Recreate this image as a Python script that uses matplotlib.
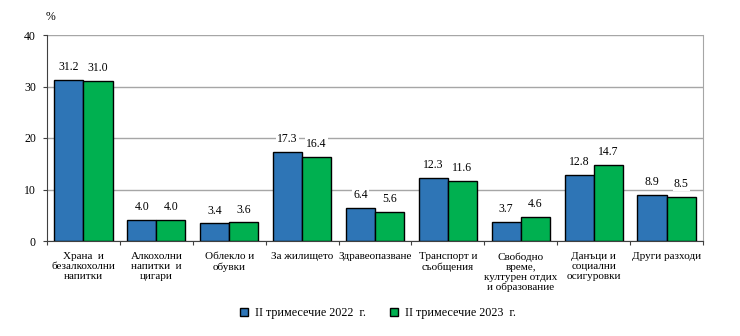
import matplotlib
matplotlib.use("Agg")
import matplotlib.pyplot as plt
import numpy as np

categories = ["Храна  и\nбезалкохолни\nнапитки", "Алкохолни\nнапитки  и\nцигари",
              "Облекло и\nобувки", "За жилището", "Здравеопазване",
              "Транспорт и\nсъобщения", "Свободно\nвреме,\nкултурен отдих\nи образование",
              "Данъци и\nсоциални\nосигуровки", "Други разходи"]
q2_2022 = [31.2, 4.0, 3.4, 17.3, 6.4, 12.3, 3.7, 12.8, 8.9]
q2_2023 = [31.0, 4.0, 3.6, 16.4, 5.6, 11.6, 4.6, 14.7, 8.5]
series_names = ["II тримесечие 2022  г.", "II тримесечие 2023  г."]
yticks = [0, 10, 20, 30, 40]

plt.rcParams['font.family'] = ['Liberation Serif', 'DejaVu Serif']
fs = 8

fig = plt.figure(figsize=(7.4, 3.36), dpi=100)
ax = fig.add_axes([47/740, 1-241/336, (703-47)/740, (241-35)/336])

x = np.arange(len(categories))
w = 0.4
b1 = ax.bar(x - w/2, q2_2022, w, color="#2E75B6", edgecolor="black", linewidth=1.0, zorder=3,
            label=series_names[0])
b2 = ax.bar(x + w/2, q2_2023, w, color="#00B050", edgecolor="black", linewidth=1.0, zorder=3,
            label=series_names[1])

for bars, vals in ((b1, q2_2022), (b2, q2_2023)):
    for r, v in zip(bars, vals):
        ax.annotate(f"{v:.1f}", (r.get_x() + r.get_width()/2, v), xytext=(0, 5),
                    textcoords="offset points", ha="center", va="bottom", fontsize=8.5,
                    zorder=4, bbox=dict(boxstyle="square,pad=0.1", fc="white", ec="none"))

ax.set_xlim(-0.5, len(categories) - 0.5)
ax.set_ylim(0, 40)
ax.set_yticks(yticks)
ax.set_yticklabels([str(t) for t in yticks], fontsize=8.5)
ax.yaxis.grid(True, color="#A6A6A6", linewidth=1.0, zorder=0)
ax.set_axisbelow(True)

ax.set_xticks(np.arange(len(categories) + 1) - 0.5)
ax.set_xticklabels([])
ax.tick_params(axis="x", direction="out", length=3, color="#404040")
ax.set_xticks(x, minor=True)
ax.set_xticklabels(categories, minor=True, fontsize=fs, linespacing=1.15)
ax.tick_params(axis="x", which="minor", length=0, pad=8)
ax.tick_params(axis="y", direction="out", length=3, color="#404040", pad=5)

ax.spines["top"].set_visible(False)
ax.spines["right"].set_color("#A6A6A6")
ax.spines["left"].set_color("#404040")
ax.spines["bottom"].set_color("#404040")

fig.text(50/740, 1-17/336, "%", fontsize=8.5, ha="center", va="center")

fig.legend(handles=[b1, b2], loc="center", bbox_to_anchor=(378/740, 1-313/336), ncol=2,
           frameon=False, fontsize=8.7, handlelength=0.65, handleheight=0.65,
           handletextpad=0.6, columnspacing=2.0)

fig.savefig("out.png", dpi=100)
